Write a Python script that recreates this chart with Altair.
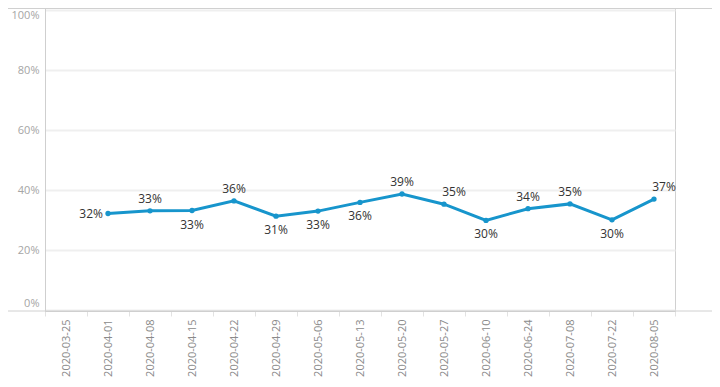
import altair as alt
import pandas as pd

all_dates = ["2020-03-25", "2020-04-01", "2020-04-08", "2020-04-15", "2020-04-22",
             "2020-04-29", "2020-05-06", "2020-05-13", "2020-05-20", "2020-05-27",
             "2020-06-10", "2020-06-24", "2020-07-08", "2020-07-22", "2020-08-05"]
dates = all_dates[1:]
values = [32.2, 33.1, 33.2, 36.4, 31.3, 33.0, 35.9, 38.7, 35.3, 29.9, 33.8, 35.4, 30.1, 37.0]
label_side = ["left", "above", "below", "above", "below", "below", "below",
              "above", "above-right", "below", "above", "above", "below", "above-right"]
y_ticks = [0, 0.2, 0.4, 0.6, 0.8, 1.0]

df = pd.DataFrame({"date": dates, "share": [v / 100 for v in values], "side": label_side})

LINE = "#1795cc"
FONT = "Open Sans"

x_enc = alt.X("date:N", sort=all_dates, title=None,
              scale=alt.Scale(domain=all_dates, type="band", paddingInner=0, paddingOuter=0),
              axis=alt.Axis(labelAngle=270, labelColor="#8a8a8a", labelFontSize=11,
                            labelFont=FONT, tickBand="extent", tickColor="#e2e2e2",
                            tickSize=5, labelPadding=3, domainColor="#cfcfcf",
                            grid=False))
y_enc = alt.Y("share:Q", title=None,
              scale=alt.Scale(domain=[-0.003, 1.007], nice=False, zero=False),
              axis=alt.Axis(values=y_ticks, format=".0%", labelColor="#a5a5a5",
                            labelFontSize=11, labelFont=FONT,
                            labelBaseline={"expr": "datum.value >= 1 ? 'top' : (datum.value <= 0 ? 'bottom' : 'middle')"},
                            labelOffset={"expr": "datum.value >= 1 ? -1 : (datum.value <= 0 ? -2 : 0)"},
                            ticks=False, labelPadding=6, domainColor="#cfcfcf",
                            gridColor="#efefef", gridWidth=2))

base = alt.Chart(df)
line = base.mark_line(color=LINE, strokeWidth=3).encode(x=x_enc, y=y_enc)
pts = base.mark_point(color=LINE, filled=True, opacity=1, size=28).encode(x="date:N", y="share:Q")

def txt(side, **kw):
    return base.transform_filter(alt.datum.side == side).mark_text(
        font=FONT, fontSize=12, color="#333333", **kw
    ).encode(x="date:N", y="share:Q", text=alt.Text("share:Q", format=".0%"))

t_left = txt("left", align="right", baseline="middle", dx=-5)
t_above = txt("above", align="center", baseline="middle", dy=-12)
t_above_r = txt("above-right", align="center", baseline="middle", dy=-12, dx=10)
t_below = txt("below", align="center", baseline="middle", dy=14)

frame = pd.DataFrame({"k": [0]})
top_rule = alt.Chart(frame).mark_rule(color="#d0d0d0", strokeWidth=1).encode(
    x=alt.value(-37), x2=alt.value(667), y=alt.value(0.5))
bottom_rule = alt.Chart(frame).mark_rule(color="#d0d0d0", strokeWidth=1).encode(
    x=alt.value(-37), x2=alt.value(667), y=alt.value(303))

chart = alt.layer(line, pts, t_left, t_above, t_above_r, t_below, top_rule, bottom_rule).properties(
    width=630, height=303,
    autosize=alt.AutoSizeParams(type="none"),
    padding={"left": 37, "top": 0, "right": 37, "bottom": 72},
).configure_view(stroke="#d0d0d0", strokeWidth=1)

chart.save("out.html", embed_options={"renderer": "svg", "actions": False})
